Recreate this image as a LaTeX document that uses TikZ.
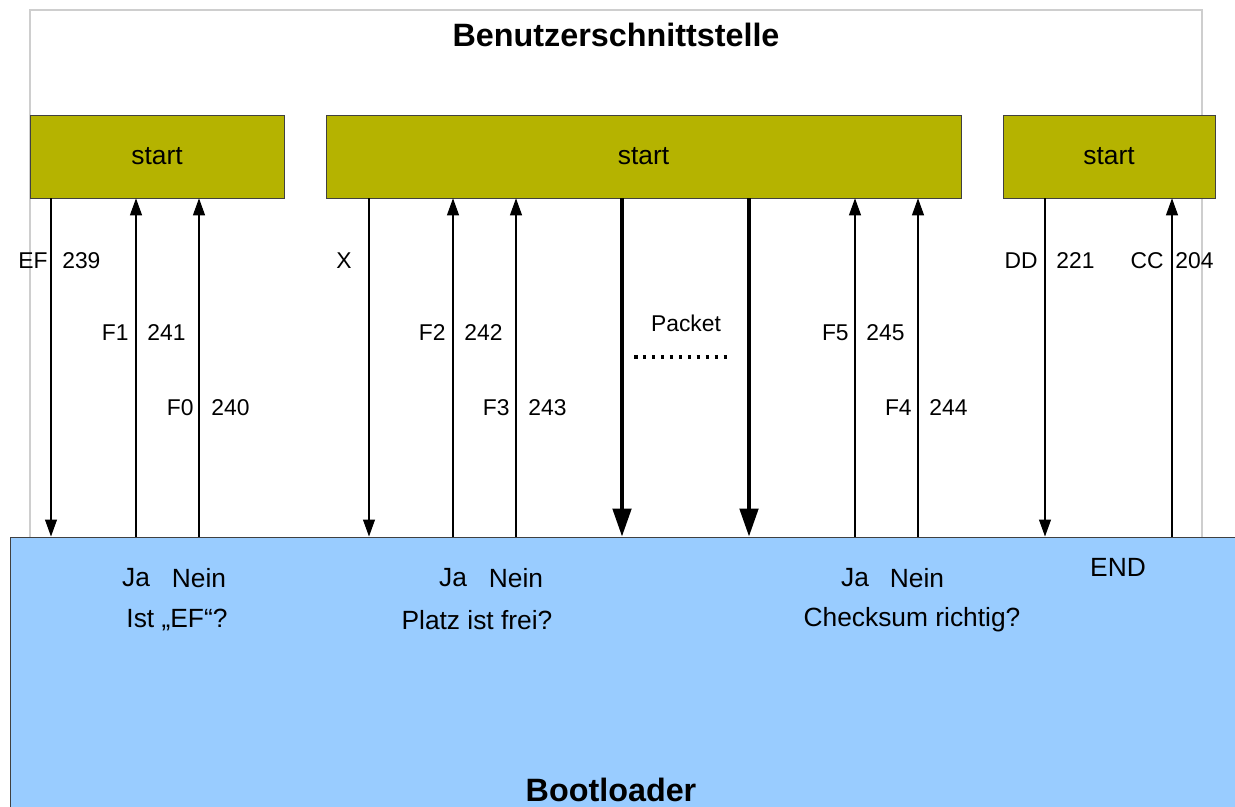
\documentclass[tikz,border=0pt]{standalone}
\usepackage{fontspec}
\setmainfont{Liberation Sans}
\usetikzlibrary{arrows.meta}

\definecolor{startolive}{RGB}{181,179,0}
\definecolor{bootblue}{RGB}{153,204,255}
\definecolor{framegray}{RGB}{206,206,206}

\begin{document}
\begin{tikzpicture}[
        x=0.02cm, y=-0.02cm,
        startbox/.style={
            draw=black!75,
            fill=startolive,
            minimum height=1.66cm,
            inner sep=0pt,
            font=\fontsize{15}{18}\selectfont
        },
        lbl/.style={inner sep=0pt, font=\fontsize{15}{18}\selectfont},
        codelbl/.style={inner sep=0pt, font=\fontsize{13}{16}\selectfont},
        bigtitle/.style={inner sep=0pt, font=\fontsize{18.4}{22}\selectfont\bfseries},
        down/.style={line width=0.6pt, -{Triangle[length=0.34cm,width=0.24cm]}},
        up/.style={line width=0.6pt, -{Triangle[length=0.34cm,width=0.24cm]}},
        packetline/.style={line width=2pt, -{Triangle[length=0.56cm,width=0.37cm]}}
    ]
            \useasboundingbox (0,0) rectangle (1235,807);
            \clip (0,0) rectangle (1235,807);

            % user interface frame
            \node[
                draw=framegray,
                line width=0.8pt,
                minimum width=23.44cm,
                minimum height=10.6cm,
                inner sep=0pt,
                name=ui
            ] at (616,275) {};
            \node[bigtitle, name=uititle] at (616,35) {Benutzerschnittstelle};

            % the three start boxes
            \node[startbox, minimum width=5.08cm, name=s1] at (157,156.5) {start};
            \node[startbox, minimum width=12.7cm, name=s2] at (643.5,156.5) {start};
            \node[startbox, minimum width=4.24cm, name=s3] at (1109,156.5) {start};

            % bootloader
            \node[
                draw=black!75,
                fill=bootblue,
                line width=0.6pt,
                minimum width=26cm,
                minimum height=6cm,
                inner sep=0pt,
                name=boot
            ] at (660,687) {};
            \node[bigtitle, name=bootlbl] at (611,790) {Bootloader};

            % arrow positions
            \coordinate (a1) at (51,0);
            \coordinate (a2) at (136,0);
            \coordinate (a3) at (199,0);
            \coordinate (b1) at (369,0);
            \coordinate (b2) at (453,0);
            \coordinate (b3) at (516,0);
            \coordinate (p1) at (622,0);
            \coordinate (p2) at (749,0);
            \coordinate (c1) at (855,0);
            \coordinate (c2) at (918,0);
            \coordinate (d1) at (1045,0);
            \coordinate (d2) at (1172,0);

            % first block
            \draw[down] (s1.south -| a1) -- (boot.north -| a1);
            \draw[up] (boot.north -| a2) -- (s1.south -| a2);
            \draw[up] (boot.north -| a3) -- (s1.south -| a3);

            \node[codelbl, anchor=east, name=ef] at (48,261) {EF};
            \node[codelbl, anchor=west, name=ef2] at (62,261) {239};
            \node[codelbl, anchor=east, name=f1] at (129,333) {F1};
            \node[codelbl, anchor=west, name=f12] at (147,333) {241};
            \node[codelbl, anchor=east, name=f0] at (194,408) {F0};
            \node[codelbl, anchor=west, name=f02] at (211,408) {240};

            % second block
            \draw[down] (s2.south -| b1) -- (boot.north -| b1);
            \draw[up] (boot.north -| b2) -- (s2.south -| b2);
            \draw[up] (boot.north -| b3) -- (s2.south -| b3);

            \node[codelbl, anchor=east, name=x] at (352,261) {X};
            \node[codelbl, anchor=east, name=f2] at (446,333) {F2};
            \node[codelbl, anchor=west, name=f22] at (464,333) {242};
            \node[codelbl, anchor=east, name=f3] at (510,408) {F3};
            \node[codelbl, anchor=west, name=f32] at (528,408) {243};

            % packet
            \draw[packetline] (s2.south -| p1) -- (boot.north -| p1);
            \draw[packetline] (s2.south -| p2) -- (boot.north -| p2);
            \node[inner sep=0pt, font=\fontsize{13}{16}\selectfont, name=packet] at (686,323) {Packet};
            \coordinate (dotsl) at (634,357);
            \coordinate (dotsr) at (730,357);
            \draw[line width=2.2pt, dash pattern=on 2pt off 3.1pt] (dotsl) -- (dotsr);

            % third block
            \draw[up] (boot.north -| c1) -- (s2.south -| c1);
            \draw[up] (boot.north -| c2) -- (s2.south -| c2);

            \node[codelbl, anchor=east, name=f5] at (849,333) {F5};
            \node[codelbl, anchor=west, name=f52] at (866,333) {245};
            \node[codelbl, anchor=east, name=f4] at (912,408) {F4};
            \node[codelbl, anchor=west, name=f42] at (929,408) {244};

            % last block
            \draw[down] (s3.south -| d1) -- (boot.north -| d1);
            \draw[up] (boot.north -| d2) -- (s3.south -| d2);

            \node[codelbl, anchor=east, name=dd] at (1038,261) {DD};
            \node[codelbl, anchor=west, name=dd2] at (1056,261) {221};
            \node[codelbl, anchor=east, name=cc] at (1164,261) {CC};
            \node[codelbl, anchor=west, name=cc2] at (1175,261) {204};

            % questions in the bootloader
            \node[lbl, name=ja1] at (136,578) {Ja};
            \node[lbl, name=nein1] at (199,578) {Nein};
            \node[lbl, name=q1] at (177,620) {Ist „EF“?};

            \node[lbl, name=ja2] at (453,578) {Ja};
            \node[lbl, name=nein2] at (516,578) {Nein};
            \node[lbl, name=q2] at (477,620) {Platz ist frei?};

            \node[lbl, name=ja3] at (855,578) {Ja};
            \node[lbl, name=nein3] at (917,578) {Nein};
            \node[lbl, name=q3] at (912,620) {Checksum richtig?};

            \node[lbl, name=endlbl] at (1118,567) {END};
\end{tikzpicture}
\end{document}
